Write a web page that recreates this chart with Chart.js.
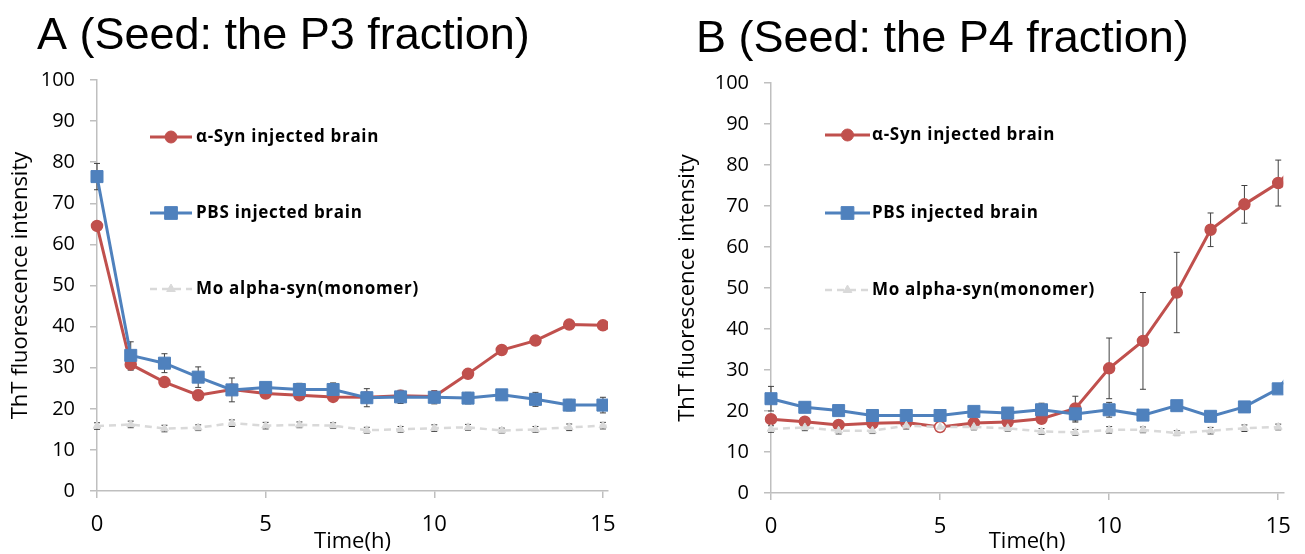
<!DOCTYPE html>
<html>
<head>
<meta charset="utf-8">
<script src="https://cdn.jsdelivr.net/npm/chart.js@4/dist/chart.umd.min.js"></script>
<style>
  body { margin: 0; background: #fff; }
  .wrap { display: flex; width: 1305px; height: 554px; overflow: hidden; }
  .panel { position: relative; height: 554px; }
</style>
</head>
<body>
<div class="wrap">
  <div class="panel" style="width:652px"><canvas id="chartP3"></canvas></div>
  <div class="panel" style="width:653px"><canvas id="chartP4"></canvas></div>
</div>
<script>
// time points (h); the last one runs just past the visible axis end
const hours = [0, 1, 2, 3, 4, 5, 6, 7, 8, 9, 10, 11, 12, 13, 14, 15, 16];
const xTickValues = [0, 5, 10, 15];
const yTickValues = [0, 10, 20, 30, 40, 50, 60, 70, 80, 90, 100];
const seriesNames = ['α-Syn injected brain', 'PBS injected brain', 'Mo alpha-syn(monomer)'];

// seed: P3 fraction
const p3Alpha    = [64.5, 30.8, 26.5, 23.3, 24.7, 23.7, 23.3, 22.9, 22.8, 23.2, 23.0, 28.5, 34.3, 36.6, 40.5, 40.3, 41.0];
const p3AlphaErr = [1.0, 1.4, 0.8, 1.2, 1.0, 0.8, 0.8, 0.8, 0.8, 0.8, 0.8, 0.8, 0.8, 0.8, 0.8, 0.8, 0.8];
const p3Pbs      = [76.5, 33.0, 31.1, 27.7, 24.6, 25.2, 24.7, 24.7, 22.7, 22.9, 22.8, 22.6, 23.4, 22.3, 20.9, 20.9, 20.8];
const p3PbsErr   = [3.2, 3.3, 2.3, 2.5, 2.9, 0.8, 1.5, 1.6, 2.2, 1.6, 1.6, 1.4, 0.8, 1.7, 1.4, 1.9, 1.5];
const p3Mono     = [15.8, 16.2, 15.2, 15.4, 16.5, 15.9, 16.1, 15.9, 14.8, 15.0, 15.3, 15.5, 14.7, 15.0, 15.5, 15.9, 15.6];
const p3MonoErr  = [0.8, 0.8, 0.8, 0.7, 0.8, 0.8, 0.7, 0.7, 0.7, 0.7, 0.8, 0.7, 0.6, 0.7, 0.8, 0.8, 0.7];

// seed: P4 fraction
const p4Alpha    = [18.0, 17.4, 16.6, 17.0, 17.2, 16.1, 17.1, 17.3, 18.1, 20.6, 30.4, 37.1, 48.9, 64.2, 70.4, 75.6, 84.0];
const p4AlphaErr = [0.8, 0.8, 0.8, 0.8, 0.8, 0.8, 0.8, 0.8, 0.8, 3.0, 7.4, 11.8, 9.8, 4.1, 4.6, 5.6, 5.0];
const p4Pbs      = [23.0, 20.9, 20.1, 18.9, 18.9, 18.9, 19.9, 19.5, 20.3, 19.3, 20.3, 19.0, 21.3, 18.7, 21.0, 25.4, 36.0];
const p4PbsErr   = [3.0, 1.0, 0.8, 0.8, 0.8, 0.8, 0.8, 1.0, 1.6, 2.0, 1.8, 0.8, 0.8, 0.8, 0.8, 0.8, 0.8];
const p4Mono     = [15.6, 16.0, 15.2, 15.2, 16.4, 16.1, 16.1, 15.8, 15.0, 14.8, 15.4, 15.4, 14.6, 15.2, 15.8, 16.1, 15.3];
const p4MonoErr  = [0.8, 0.8, 0.8, 0.7, 0.8, 0.7, 0.7, 0.7, 0.7, 0.7, 0.8, 0.7, 0.6, 0.8, 0.8, 0.7, 0.7];

const RED = '#c0504d';
const BLUE = '#4f81bd';
const GREY = '#d9d9d9';
const AXIS = '#bfbfbf';
const FONT = "'Open Sans', 'Liberation Sans', sans-serif";

function points(values) {
  return values.map((v, i) => ({ x: hours[i], y: v }));
}

// vertical error bars with caps, drawn under the lines
const errorBars = {
  id: 'errorBars',
  beforeDatasetsDraw(chart) {
    const ctx = chart.ctx;
    const area = chart.chartArea;
    const yScale = chart.scales.y;
    ctx.save();
    ctx.beginPath();
    ctx.rect(area.left - 10, area.top - 10, area.right - area.left + 10, area.bottom - area.top + 20);
    ctx.clip();
    ctx.strokeStyle = '#404040';
    ctx.lineWidth = 1;
    chart.data.datasets.forEach((ds, i) => {
      const meta = chart.getDatasetMeta(i);
      ds.errors.forEach((err, j) => {
        const pt = meta.data[j];
        const v = ds.data[j].y;
        const top = yScale.getPixelForValue(v + err);
        const bottom = yScale.getPixelForValue(v - err);
        ctx.beginPath();
        ctx.moveTo(pt.x, top);
        ctx.lineTo(pt.x, bottom);
        ctx.moveTo(pt.x - 3, top);
        ctx.lineTo(pt.x + 3, top);
        ctx.moveTo(pt.x - 3, bottom);
        ctx.lineTo(pt.x + 3, bottom);
        ctx.stroke();
      });
    });
    ctx.restore();
  }
};

// legend sitting inside the plot area
const innerLegend = {
  id: 'innerLegend',
  afterDraw(chart, args, opts) {
    const ctx = chart.ctx;
    chart.data.datasets.forEach((ds, i) => {
      const y = opts.rows[i];
      ctx.save();
      ctx.strokeStyle = ds.borderColor;
      ctx.lineWidth = ds.borderWidth;
      ctx.setLineDash(ds.borderDash || []);
      ctx.beginPath();
      ctx.moveTo(opts.x1, y);
      ctx.lineTo(opts.x2, y);
      ctx.stroke();
      ctx.setLineDash([]);
      ctx.fillStyle = ds.pointBackgroundColor instanceof Array ? ds.borderColor : ds.pointBackgroundColor;
      ctx.strokeStyle = ds.pointBorderColor;
      ctx.lineWidth = 1;
      Chart.helpers.drawPoint(ctx, {
        pointStyle: ds.pointStyle, radius: ds.pointRadius + 0.5, rotation: 0, borderWidth: 1
      }, (opts.x1 + opts.x2) / 2, y);
      ctx.fillStyle = '#000';
      ctx.font = 'bold 17px ' + FONT;
      ctx.letterSpacing = '0.7px';
      ctx.textBaseline = 'middle';
      ctx.textAlign = 'left';
      ctx.fillText(ds.label, opts.textX, y);
      ctx.restore();
    });
  }
};

// panel heading
const panelTitle = {
  id: 'panelTitle',
  afterDraw(chart, args, opts) {
    const ctx = chart.ctx;
    ctx.save();
    ctx.fillStyle = '#000';
    ctx.font = "45px 'Liberation Sans', Arial, sans-serif";
    ctx.textBaseline = 'alphabetic';
    ctx.textAlign = 'left';
    ctx.fillText(opts.text, opts.x, opts.y);
    ctx.restore();
  }
};

function makeChart(id, panel) {
  const alphaFill = hours.map((h, i) => panel.hollow.includes(i) ? '#fff' : RED);
  return new Chart(document.getElementById(id), {
    type: 'line',
    data: {
      datasets: [
        {
          label: seriesNames[0], data: points(panel.alpha), errors: panel.alphaErr,
          borderColor: RED, borderWidth: 3, pointStyle: 'circle', pointRadius: 5.5,
          pointBackgroundColor: alphaFill, pointBorderColor: RED, pointBorderWidth: 1.5,
          order: 3, clip: { left: 12, top: 12, right: 0, bottom: 12 }
        },
        {
          label: seriesNames[1], data: points(panel.pbs), errors: panel.pbsErr,
          borderColor: BLUE, borderWidth: 3, pointStyle: 'rect', pointRadius: 8.5,
          pointBackgroundColor: BLUE, pointBorderColor: BLUE, pointBorderWidth: 1,
          order: 2, clip: { left: 12, top: 12, right: 0, bottom: 12 }
        },
        {
          label: seriesNames[2], data: points(panel.mono), errors: panel.monoErr,
          borderColor: GREY, borderWidth: 2.5, borderDash: [7, 5], pointStyle: 'triangle', pointRadius: 4.5,
          pointBackgroundColor: GREY, pointBorderColor: GREY, pointBorderWidth: 1,
          order: 1, clip: { left: 12, top: 12, right: 0, bottom: 12 }
        }
      ]
    },
    options: {
      responsive: true,
      maintainAspectRatio: false,
      animation: false,
      layout: { padding: { left: 0, top: panel.top, right: panel.right, bottom: 0 } },
      plugins: {
        legend: { display: false },
        tooltip: { enabled: false },
        innerLegend: panel.legend,
        panelTitle: panel.title
      },
      scales: {
        x: {
          type: 'linear', min: 0, max: 15.15,
          afterFit: s => { s.height = panel.xHeight; },
          afterBuildTicks: s => { s.ticks = xTickValues.map(v => ({ value: v })); },
          grid: { drawOnChartArea: false, drawTicks: true, tickLength: 7, color: AXIS, lineWidth: 1.5 },
          border: { display: true, color: AXIS, width: 1.5 },
          ticks: { color: '#000', font: { family: FONT, size: 22 }, padding: 14, maxRotation: 0 },
          title: { display: true, text: 'Time(h)', color: '#000', font: { family: FONT, size: 22 }, padding: { top: 0, bottom: -1 } }
        },
        y: {
          type: 'linear', min: 0, max: 100,
          afterFit: s => { s.width = panel.yWidth; },
          afterBuildTicks: s => { s.ticks = yTickValues.map(v => ({ value: v })); },
          grid: { drawOnChartArea: false, drawTicks: true, tickLength: 7, color: AXIS, lineWidth: 1.5 },
          border: { display: true, color: AXIS, width: 1.5 },
          ticks: { color: '#000', font: { family: FONT, size: 20 }, padding: 15 },
          title: { display: true, text: 'ThT fluorescence intensity', color: '#000', font: { family: FONT, size: 22 }, padding: { top: panel.yTitlePad, bottom: 0 } }
        }
      }
    },
    plugins: [errorBars, innerLegend, panelTitle]
  });
}

makeChart('chartP3', {
  alpha: p3Alpha, alphaErr: p3AlphaErr, pbs: p3Pbs, pbsErr: p3PbsErr, mono: p3Mono, monoErr: p3MonoErr,
  hollow: [],
  top: 80, right: 44, yWidth: 97, xHeight: 63, yTitlePad: 8,
  legend: { x1: 150, x2: 192, textX: 196, rows: [137, 213, 289] },
  title: { text: 'A (Seed: the P3 fraction)', x: 37, y: 49 }
});

makeChart('chartP4', {
  alpha: p4Alpha, alphaErr: p4AlphaErr, pbs: p4Pbs, pbsErr: p4PbsErr, mono: p4Mono, monoErr: p4MonoErr,
  hollow: [5],
  top: 83, right: 20, yWidth: 119, xHeight: 61, yTitlePad: 23,
  legend: { x1: 173, x2: 218, textX: 220, rows: [135, 213, 290] },
  title: { text: 'B (Seed: the P4 fraction)', x: 44, y: 52 }
});
</script>
</body>
</html>
